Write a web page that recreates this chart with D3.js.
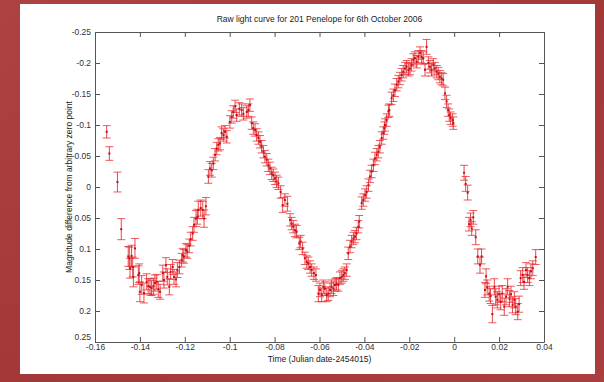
<!DOCTYPE html>
<html><head><meta charset="utf-8">
<script src="https://cdn.jsdelivr.net/npm/d3@7"></script>
<style>
html,body{margin:0;padding:0;background:#a83c3c;}
svg{display:block;}
text{font-family:"Liberation Sans",Arial,Helvetica,sans-serif;}
</style></head>
<body>
<svg id="chart" width="604" height="382"></svg>
<script>
const titleText = "Raw light curve for 201 Penelope for 6th October 2006";
const xLabelText = "Time (Julian date-2454015)";
const yLabelText = "Magnitude difference from arbitrary zero point";
const xTicks = [-0.16,-0.14,-0.12,-0.1,-0.08,-0.06,-0.04,-0.02,0,0.02,0.04];
const yTicks = [-0.25,-0.2,-0.15,-0.1,-0.05,0,0.05,0.1,0.15,0.2,0.25];

const times = [
-0.1548,-0.1536,-0.1500,-0.1483,-0.1452,-0.1447,-0.1444,-0.1437,-0.1432,-0.1429,
-0.1422,-0.1407,-0.1403,-0.1400,-0.1392,-0.1382,-0.1370,-0.1363,-0.1355,-0.1348,
-0.1340,-0.1333,-0.1325,-0.1318,-0.1310,-0.1298,-0.1293,-0.1284,-0.1278,-0.1269,
-0.1263,-0.1254,-0.1248,-0.1239,-0.1233,-0.1224,-0.1214,-0.1209,-0.1204,-0.1195,
-0.1189,-0.1180,-0.1174,-0.1165,-0.1159,-0.1150,-0.1144,-0.1140,-0.1129,-0.1120,
-0.1114,-0.1106,-0.1095,-0.1088,-0.1080,-0.1073,-0.1065,-0.1058,-0.1051,-0.1043,
-0.1036,-0.1028,-0.1021,-0.1013,-0.0999,-0.0991,-0.0984,-0.0976,-0.0969,-0.0957,
-0.0947,-0.0939,-0.0924,-0.0917,
-0.0910,-0.0902,-0.0895,-0.0887,-0.0880,-0.0872,-0.0865,-0.0858,-0.0850,-0.0843,
-0.0835,-0.0828,-0.0821,-0.0813,-0.0806,-0.0798,-0.0791,-0.0783,-0.0773,-0.0764,
-0.0754,-0.0743,-0.0731,-0.0724,-0.0717,-0.0709,-0.0702,-0.0690,-0.0684,-0.0675,
-0.0665,-0.0657,-0.0650,-0.0642,-0.0635,-0.0625,-0.0616,-0.0605,-0.0598,-0.0590,
-0.0583,-0.0576,-0.0568,-0.0561,-0.0553,-0.0546,-0.0538,-0.0531,-0.0524,-0.0516,
-0.0509,-0.0501,-0.0494,-0.0487,-0.0479,-0.0472,-0.0464,-0.0457,-0.0449,-0.0442,
-0.0435,-0.0427,-0.0423,-0.0412,-0.0405,-0.0397,-0.0390,-0.0382,-0.0375,-0.0368,
-0.0360,-0.0353,-0.0345,-0.0338,-0.0331,-0.0323,-0.0316,-0.0311,-0.0308,-0.0301,
-0.0293,-0.0289,-0.0279,-0.0271,-0.0264,-0.0256,-0.0249,-0.0242,-0.0234,-0.0227,
-0.0219,-0.0212,-0.0204,-0.0197,-0.0190,-0.0182,-0.0175,-0.0167,-0.0160,-0.0152,
-0.0145,-0.0138,-0.0130,-0.0123,-0.0115,-0.0108,-0.0101,-0.0093,-0.0086,-0.0078,
-0.0071,-0.0064,-0.0056,-0.0049,-0.0041,-0.0034,-0.0027,-0.0022,-0.0016,-0.0007,
-0.0004,
0.0044,0.0051,0.0060,0.0066,0.0073,0.0078,0.0085,0.0096,0.0105,0.0115,
0.0122,0.0137,0.0142,0.0147,0.0156,0.0162,0.0170,0.0179,0.0185,0.0192,
0.0200,0.0207,0.0214,0.0223,0.0231,0.0238,0.0246,0.0253,0.0260,0.0268,
0.0274,0.0283,0.0289,0.0296,0.0305,0.0311,0.0320,0.0327,0.0335,0.0342,
0.0350,0.0363
];
const mags = [
-0.089,-0.054,-0.008,0.068,0.112,0.115,0.131,0.111,0.129,0.145,
0.099,0.142,0.139,0.169,0.158,0.171,0.153,0.160,0.161,0.163,
0.160,0.155,0.153,0.165,0.169,0.139,0.150,0.126,0.145,0.161,
0.137,0.129,0.145,0.149,0.134,0.129,0.118,0.110,0.112,0.102,
0.104,0.095,0.084,0.075,0.061,0.051,0.048,0.037,0.034,0.037,
0.051,0.031,-0.017,-0.030,-0.027,-0.038,-0.052,-0.062,-0.068,-0.070,
-0.087,-0.084,-0.089,-0.081,-0.105,-0.113,-0.121,-0.130,-0.116,-0.126,
-0.124,-0.118,-0.121,-0.124,
-0.132,-0.103,-0.095,-0.092,-0.084,-0.079,-0.073,-0.065,-0.057,-0.049,
-0.044,-0.035,-0.030,-0.022,-0.019,-0.014,-0.009,-0.006,0.008,0.029,
0.021,0.027,0.053,0.059,0.064,0.070,0.072,0.091,0.088,0.099,
0.115,0.121,0.123,0.129,0.134,0.139,0.142,0.172,0.166,0.174,
0.161,0.164,0.174,0.172,0.166,0.161,0.164,0.158,0.156,0.158,
0.147,0.145,0.142,0.139,0.134,0.107,0.096,0.088,0.083,0.080,
0.075,0.064,0.056,0.026,0.021,0.013,0.008,-0.003,-0.017,-0.025,
-0.035,-0.046,-0.052,-0.057,-0.065,-0.079,-0.087,-0.095,-0.100,-0.108,
-0.122,-0.124,-0.143,-0.148,-0.156,-0.165,-0.170,-0.175,-0.181,-0.186,
-0.191,-0.194,-0.189,-0.191,-0.197,-0.205,-0.208,-0.202,-0.210,-0.216,
-0.210,-0.208,-0.189,-0.226,-0.200,-0.194,-0.189,-0.197,-0.191,-0.186,
-0.183,-0.178,-0.175,-0.173,-0.151,-0.138,-0.124,-0.116,-0.111,-0.108,
-0.103,
-0.023,-0.005,0.009,0.060,0.053,0.067,0.049,0.081,0.112,0.126,
0.112,0.166,0.144,0.162,0.172,0.176,0.205,0.161,0.177,0.182,
0.173,0.185,0.172,0.193,0.177,0.161,0.180,0.173,0.190,0.182,
0.193,0.201,0.189,0.147,0.142,0.153,0.134,0.142,0.147,0.136,
0.131,0.113
];
const errs = [
0.010,0.011,0.016,0.017,0.016,0.018,0.016,0.017,0.016,0.016,
0.016,0.015,0.015,0.016,0.015,0.016,0.013,0.012,0.013,0.012,
0.013,0.013,0.012,0.013,0.012,0.013,0.013,0.012,0.013,0.013,
0.012,0.012,0.012,0.012,0.012,0.011,0.011,0.011,0.011,0.011,
0.011,0.011,0.011,0.011,0.012,0.013,0.012,0.014,0.013,0.014,
0.014,0.014,0.011,0.011,0.011,0.010,0.010,0.010,0.010,0.010,
0.010,0.010,0.010,0.010,0.010,0.010,0.010,0.010,0.010,0.010,
0.010,0.010,0.010,0.010,
0.010,0.010,0.010,0.010,0.010,0.010,0.010,0.010,0.010,0.010,
0.010,0.010,0.010,0.010,0.010,0.010,0.010,0.010,0.010,0.012,
0.010,0.012,0.010,0.010,0.010,0.010,0.010,0.010,0.010,0.010,
0.010,0.010,0.010,0.010,0.010,0.010,0.010,0.013,0.011,0.011,
0.011,0.011,0.011,0.011,0.011,0.011,0.011,0.010,0.010,0.010,
0.010,0.010,0.010,0.010,0.010,0.010,0.010,0.010,0.010,0.010,
0.010,0.010,0.010,0.010,0.010,0.010,0.010,0.010,0.010,0.010,
0.010,0.010,0.010,0.010,0.010,0.010,0.010,0.010,0.010,0.010,
0.010,0.010,0.010,0.010,0.010,0.010,0.010,0.010,0.010,0.010,
0.010,0.010,0.010,0.010,0.010,0.010,0.010,0.010,0.010,0.010,
0.010,0.010,0.010,0.012,0.010,0.010,0.010,0.010,0.010,0.010,
0.010,0.010,0.010,0.010,0.010,0.010,0.010,0.010,0.010,0.010,
0.010,
0.012,0.012,0.012,0.011,0.011,0.011,0.011,0.012,0.012,0.013,
0.012,0.012,0.012,0.012,0.012,0.012,0.014,0.013,0.013,0.013,
0.013,0.013,0.013,0.014,0.013,0.013,0.013,0.013,0.013,0.013,
0.013,0.013,0.013,0.012,0.012,0.012,0.012,0.012,0.012,0.012,
0.012,0.012
];

const W = 604, H = 382;
const m = {left: 95, right: 544, top: 32, bottom: 342};
const svg = d3.select("#chart");

const defs = svg.append("defs");
const grad = defs.append("linearGradient").attr("id","bg").attr("x1","0").attr("y1","0").attr("x2","1").attr("y2","1");
grad.append("stop").attr("offset","0").attr("stop-color","#ad4242");
grad.append("stop").attr("offset","0.5").attr("stop-color","#a33838");
grad.append("stop").attr("offset","1").attr("stop-color","#ab3f3f");
svg.append("rect").attr("width",W).attr("height",H).attr("fill","url(#bg)");
svg.append("rect").attr("x",20).attr("y",4).attr("width",575).attr("height",370).attr("fill","#ffffff");

const x = d3.scaleLinear().domain([-0.16,0.04]).range([m.left,m.right]);
const y = d3.scaleLinear().domain([-0.25,0.25]).range([m.top,m.bottom]);

const fmt = d => (Math.round(d*1000)/1000).toString();
const axisColor = "#555";
const tickLen = 5;

const pts = times.map((t,i)=>({t, v:mags[i], e:errs[i]}));
const eb = svg.append("g").attr("stroke","#e8262a").attr("stroke-width",1).attr("fill","none");
pts.forEach(p=>{
  const cx = x(p.t), y1 = y(p.v - p.e), y2 = y(p.v + p.e);
  eb.append("line").attr("x1",cx).attr("x2",cx).attr("y1",y1).attr("y2",y2).attr("stroke-opacity",0.85);
  eb.append("line").attr("x1",cx-4).attr("x2",cx+4).attr("y1",y1).attr("y2",y1).attr("stroke-opacity",0.75);
  eb.append("line").attr("x1",cx-4).attr("x2",cx+4).attr("y1",y2).attr("y2",y2).attr("stroke-opacity",0.75);
});
svg.append("g").selectAll("rect").data(pts).join("rect")
  .attr("x",d=>x(d.t)-1).attr("y",d=>y(d.v)-1).attr("width",2).attr("height",2)
  .attr("fill","#c0101a");

const bottomAxis = d3.axisBottom(x).tickValues(xTicks).tickFormat(fmt).tickSizeInner(-tickLen).tickSizeOuter(0).tickPadding(4);
const topAxis = d3.axisTop(x).tickValues(xTicks).tickFormat("").tickSizeInner(-tickLen).tickSizeOuter(0);
const leftAxis = d3.axisLeft(y).tickValues(yTicks).tickFormat(fmt).tickSizeInner(-tickLen).tickSizeOuter(0).tickPadding(4);
const rightAxis = d3.axisRight(y).tickValues(yTicks).tickFormat("").tickSizeInner(-tickLen).tickSizeOuter(0);

function style(g){
  g.selectAll("path").attr("stroke",axisColor);
  g.selectAll("line").attr("stroke",axisColor);
  g.selectAll("text").attr("fill","#333").style("font-size","8.5px").style("font-family","'Liberation Sans',Arial,sans-serif");
}
const gb = svg.append("g").attr("transform",`translate(0,${m.bottom})`).call(bottomAxis).call(style);
gb.selectAll("text").attr("dy","0.5em");
svg.append("g").attr("transform",`translate(0,${m.top})`).call(topAxis).call(style);
const gl = svg.append("g").attr("transform",`translate(${m.left},0)`).call(leftAxis).call(style);
svg.append("g").attr("transform",`translate(${m.right},0)`).call(rightAxis).call(style);
gl.selectAll(".tick").filter(d=>d===0.25).select("text").attr("dy","-0.3em");

svg.append("text").attr("x",(m.left+m.right)/2).attr("y",22).attr("text-anchor","middle")
  .style("font-size","8.5px").attr("fill","#222").text(titleText);
svg.append("text").attr("x",(m.left+m.right)/2).attr("y",362).attr("text-anchor","middle")
  .style("font-size","8.5px").attr("fill","#222").text(xLabelText);
svg.append("text").attr("transform",`translate(72,${(m.top+m.bottom)/2}) rotate(-90)`).attr("text-anchor","middle")
  .style("font-size","8.5px").attr("fill","#222").text(yLabelText);
</script>
</body></html>
